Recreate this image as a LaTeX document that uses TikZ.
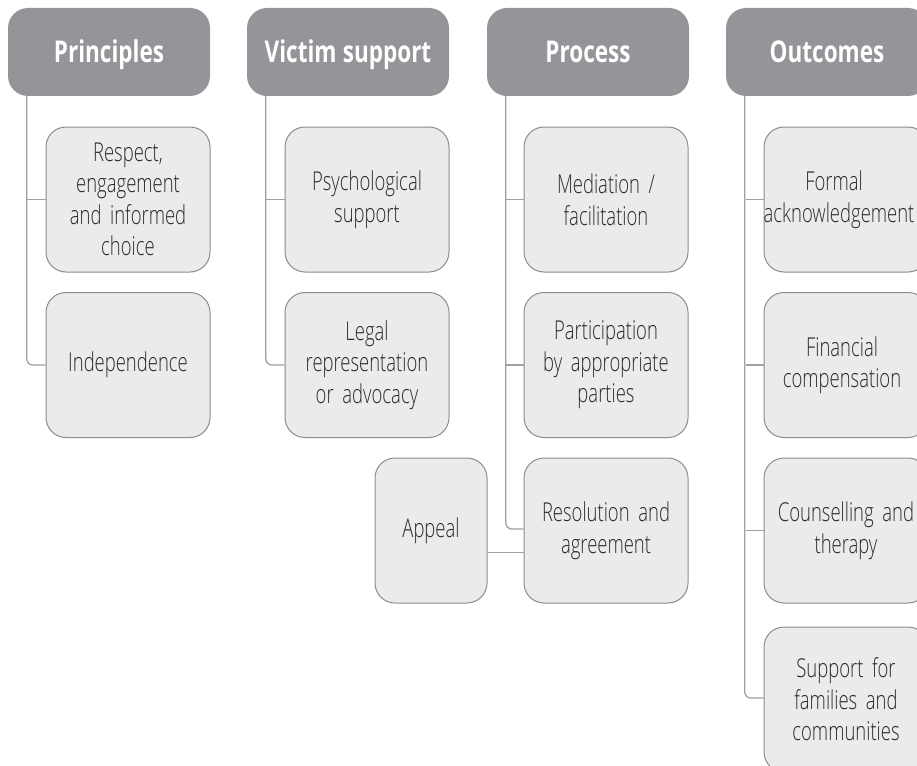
\documentclass[tikz,border=0pt]{standalone}
\usepackage{fontspec}
\setmainfont[FakeStretch=0.71, WordSpace=0.45, BoldFont={Open Sans Bold}, BoldFeatures={FakeStretch=0.75, WordSpace=1.1}]{Open Sans Light}
\definecolor{hdrfill}{HTML}{939598}
\definecolor{boxfill}{HTML}{EBEBEC}
\definecolor{boxline}{HTML}{8C8C8E}
\definecolor{lineclr}{HTML}{A0A0A2}
\definecolor{txt}{HTML}{2B2B2B}
\tikzset{
  hdr/.style={rectangle, rounded corners=20pt, fill=hdrfill, draw=none,
    minimum width=202pt, minimum height=88pt, text=white,
    font=\fontsize{30}{34}\selectfont\bfseries, inner sep=0pt,
    text height=21.5pt, text depth=0pt},
  item/.style={rectangle, rounded corners=20pt, fill=boxfill, draw=boxline, line width=1pt,
    minimum width=164pt, minimum height=145pt, text=txt, align=center,
    font=\fontsize{26}{31.5}\selectfont, inner sep=0pt, text width=160pt},
  conn/.style={draw=lineclr, line width=1.3pt, rounded corners=6pt}
}
\begin{document}
\begin{tikzpicture}[x=1pt,y=-1pt]
\useasboundingbox (0,0) rectangle (917,765);
\clip (0,0) rectangle (917,765);
% headers
\node[hdr] (ph) at (109,52) {Principles};
\node[hdr] (vh) at (348,52) {Victim support};
\node[hdr] (rh) at (588,52) {Process};
\node[hdr] (oh) at (827,52) {Outcomes};
% principles
\node[item] (p1) at (128,199.5) {Respect,\\engagement\\and informed\\choice};
\node[item] (p2) at (128,365) {Independence};
% victim support
\node[item] (v1) at (367,199.5) {Psychological\\support};
\node[item] (v2) at (367,365) {Legal\\representation\\or advocacy};
% process
\node[item] (r1) at (606,199.5) {Mediation /\\facilitation};
\node[item] (r2) at (606,365) {Participation\\by appropriate\\parties};
\node[item] (r3) at (606,530.5) {Resolution and\\agreement};
\node[item, minimum width=112pt, text width=108pt] (ap) at (431,530.5) {Appeal};
% outcomes
\node[item] (o1) at (846,199.5) {\hspace*{-24pt}Formal\\\hspace*{-14pt}acknowledgement};
\node[item] (o2) at (846,365) {\hspace*{-8pt}Financial\\\hspace*{-8pt}compensation};
\node[item] (o3) at (846,530.5) {Counselling and\\therapy};
\node[item] (o4) at (846,699.5) {Support for\\families and\\communities};
% connectors
\draw[conn] ([xshift=19pt]ph.south west) |- (p2.west);
\draw[conn] (p1.west) -- ++(-19,0);
\draw[conn] ([xshift=19pt]vh.south west) |- (v2.west);
\draw[conn] (v1.west) -- ++(-19,0);
\draw[conn] ([xshift=19pt]rh.south west) |- ([yshift=1.5pt]r3.west);
\draw[conn] (r1.west) -- ++(-18,0);
\draw[conn] (r2.west) -- ++(-18,0);
\draw[conn] ([yshift=-22pt]ap.east) -- ([yshift=-22pt]r3.west);
\draw[conn] ([xshift=19pt]oh.south west) |- ([yshift=1.5pt]o4.west);
\draw[conn] (o1.west) -- ++(-18,0);
\draw[conn] (o2.west) -- ++(-18,0);
\draw[conn] (o3.west) -- ++(-18,0);
\end{tikzpicture}
\end{document}
